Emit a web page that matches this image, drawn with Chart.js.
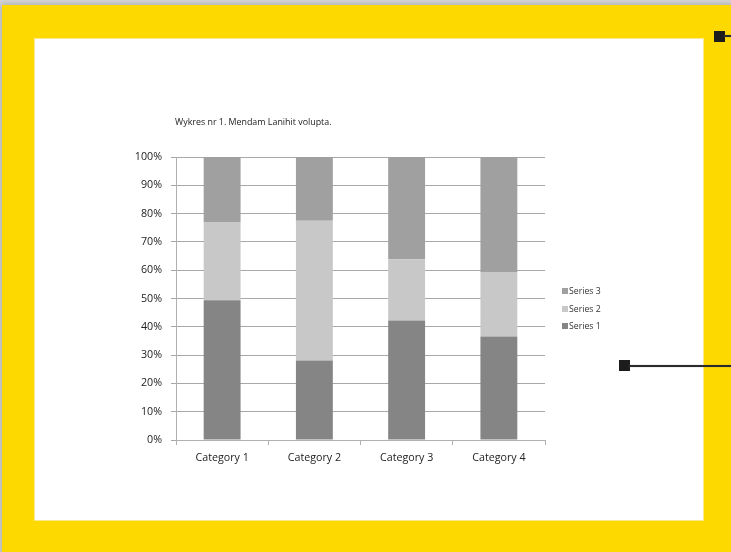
<!DOCTYPE html>
<html>
<head>
<meta charset="utf-8">
<script src="https://cdn.jsdelivr.net/npm/chart.js@4.4.0/dist/chart.umd.min.js"></script>
<style>
  html, body { margin: 0; padding: 0; }
  body { width: 731px; height: 552px; background: #d9d9d9; position: relative; overflow: hidden; font-family: "Open Sans", sans-serif; }
  #frame { position: absolute; left: 2px; top: 5px; width: 740px; height: 560px; background: #FDD900; box-shadow: 0 0 6px 2px rgba(0,0,0,0.18); }
  #panel { position: absolute; left: 35px; top: 39px; width: 668px; height: 481px; background: #fff; box-shadow: 0 0 0 1px #fde98a; }
  #chartWrap { position: absolute; left: 0; top: 0; width: 731px; height: 552px; }
  #title { position: absolute; left: 175px; top: 115px; font-size: 8.9px; color: #222; white-space: nowrap; }
  #legend { position: absolute; left: 562px; top: 285px; font-size: 8.7px; color: #333; }
  .li { height: 17.5px; line-height: 13px; white-space: nowrap; }
  .sw { display: inline-block; width: 6px; height: 6px; margin-right: 1px; vertical-align: 0px; }
  .sq { position: absolute; width: 11px; height: 11px; background: #1c1c1c; }
  .ln { position: absolute; height: 2px; background: #2a2a2a; box-shadow: 0 0 1px #777; }
</style>
</head>
<body>
<div id="frame"></div>
<div id="panel"></div>
<div class="sq" style="left:714px;top:31px;"></div>
<div class="ln" style="left:724px;top:35px;width:10px;"></div>
<div class="sq" style="left:619px;top:360px;"></div>
<div class="ln" style="left:629px;top:365px;width:105px;"></div>
<div id="chartWrap"><canvas id="c" width="731" height="552"></canvas></div>
<div id="title">Wykres nr 1. Mendam Lanihit volupta.</div>
<div id="legend"></div>
<script>
const categories = ["Category 1", "Category 2", "Category 3", "Category 4"];
const seriesNames = ["Series 1", "Series 2", "Series 3"];
const series1 = [49.4, 28.1, 42.2, 36.6];
const series2 = [27.6, 49.4, 21.7, 22.8];
const series3 = [23.0, 22.5, 36.1, 40.6];
const yTicks = [0, 10, 20, 30, 40, 50, 60, 70, 80, 90, 100];
const colors = ["#858585", "#c8c8c8", "#a0a0a0"];

const seriesValues = [series1, series2, series3];
const datasets = seriesNames.map((n, i) => ({
  label: n,
  data: seriesValues[i],
  backgroundColor: colors[i],
  borderWidth: 0,
  barPercentage: 0.4,
  categoryPercentage: 1.0
}));

const font = { family: "'Open Sans', sans-serif", size: 10.7 };

const chart = new Chart(document.getElementById('c'), {
  type: 'bar',
  data: { labels: categories, datasets },
  options: {
    responsive: false,
    animation: false,
    layout: { padding: { left: 0, right: 186, top: 157, bottom: 82 } },
    plugins: { legend: { display: false }, title: { display: false }, tooltip: { enabled: false } },
    scales: {
      x: {
        stacked: true,
        afterFit: s => { s.height = 30; },
        grid: { display: true, drawOnChartArea: false, drawTicks: true, tickLength: 5, color: '#b0b0b0', offset: true },
        border: { display: true, color: '#b0b0b0' },
        ticks: { color: '#222', font, padding: 7 }
      },
      y: {
        stacked: true,
        min: 0, max: 100,
        afterFit: s => { s.width = 176; },
        afterBuildTicks: s => { s.ticks = yTicks.map(v => ({ value: v })); },
        grid: { color: '#a8a8a8', tickLength: 5, drawTicks: true },
        border: { display: true, color: '#b0b0b0' },
        ticks: { color: '#222', font, padding: 9, callback: v => v + '%' }
      }
    }
  }
});

const legend = document.getElementById('legend');
for (let i = datasets.length - 1; i >= 0; i--) {
  const d = document.createElement('div');
  d.className = 'li';
  d.innerHTML = '<span class="sw" style="background:' + datasets[i].backgroundColor + '"></span>' + datasets[i].label;
  legend.appendChild(d);
}
</script>
</body>
</html>
